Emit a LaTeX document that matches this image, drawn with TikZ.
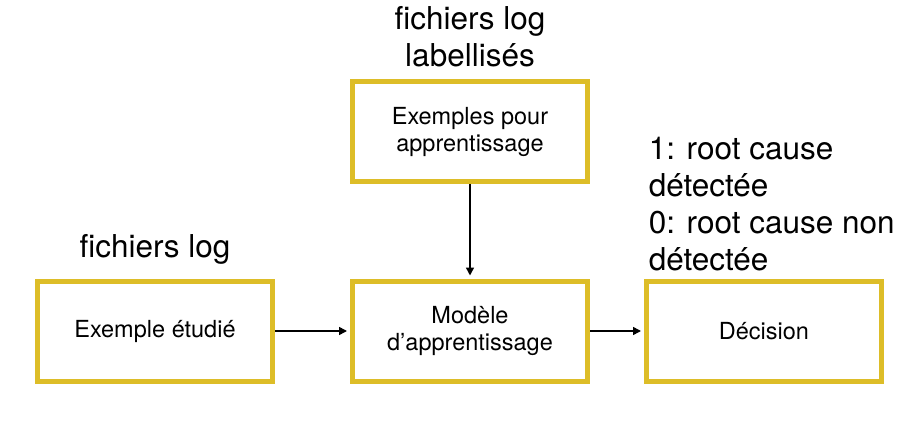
\documentclass[tikz,border=0pt]{standalone}
\usepackage{fontspec}
\setmainfont{TeX Gyre Heros}
\usepackage{tikz}
\usetikzlibrary{arrows.meta,positioning}
\definecolor{boxgold}{RGB}{221,189,40}

\begin{document}
\begin{tikzpicture}[->,>={Triangle[length=8bp,width=8bp]},shorten >=3bp,x=1bp,y=1bp,node distance=315bp,
                    line width=1.5bp]
\tikzstyle{every node}=[font=\fontsize{23.5bp}{27bp}\selectfont,align=center]
  	\tikzstyle{bloc}=[draw=boxgold,line width=5bp,minimum width=235bp,minimum height=100bp,inner sep=0pt]
  	\tikzstyle{legende}=[font=\fontsize{31.5bp}{37bp}\selectfont,inner sep=0pt]
\useasboundingbox (0,0) rectangle (923,421);
\node [bloc] (exemple) at (155,90) {Exemple étudié};
\node [bloc] [right of=exemple] (modele) {Modèle\\d'apprentissage};
\node [bloc] [right of=modele,xshift=-21bp] (decision) {Décision};
\node [bloc] [above of=modele,node distance=199.5bp] (apprent) {Exemples pour\\apprentissage};
\node [legende] [above=13bp of exemple] (log) {fichiers log};
\node [legende] [above=11bp of apprent] (loglab) {fichiers log\\labellisés};
\node [legende,align=left] [above right=7bp and 4bp of decision.north west] (sortie) {1: root cause\\détectée\\0: root cause non\\détectée};

\path (exemple) edge (modele)
	  (modele) edge (decision)
	  (apprent) edge (modele);
	\end{tikzpicture}
\end{document}
